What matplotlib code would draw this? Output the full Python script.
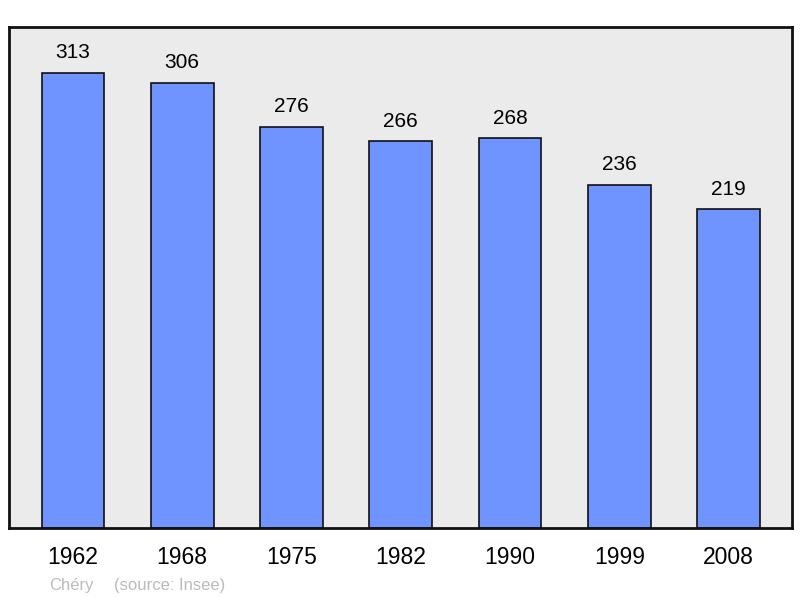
import matplotlib.pyplot as plt
import numpy as np

plt.rcParams['font.family'] = ['Liberation Sans', 'DejaVu Sans']

years = ['1962', '1968', '1975', '1982', '1990', '1999', '2008']
population = [313, 306, 276, 266, 268, 236, 219]
town = 'Chéry'
source = '(source: Insee)'

fig = plt.figure(figsize=(8, 5.98), dpi=100)
ax = fig.add_axes([0.01125, 0.117, 0.97875, 0.838])
ax.set_facecolor('#ebebeb')

x = np.arange(len(years))
ax.bar(x, population, width=0.575, color='#7094ff', edgecolor='#111111', linewidth=1.2)

for xi, v in zip(x, population):
    ax.annotate(str(v), (xi, v), xytext=(0, 7.5), textcoords='offset points',
                ha='center', va='bottom', fontsize=15)

ax.set_xlim(-0.585, 6.58)
ax.set_ylim(0, 344.5)
ax.set_xticks(x)
ax.set_xticklabels(years, fontsize=16.5)
ax.tick_params(axis='x', length=0, pad=13)
ax.set_yticks([])
for s in ax.spines.values():
    s.set_linewidth(2)
    s.set_color('#111111')

fig.text(49/800, 1 - 590/598, town, fontsize=12, color='#bbbbbb')
fig.text(114/800, 1 - 590/598, source, fontsize=12, color='#bbbbbb')

plt.savefig('out.png')
